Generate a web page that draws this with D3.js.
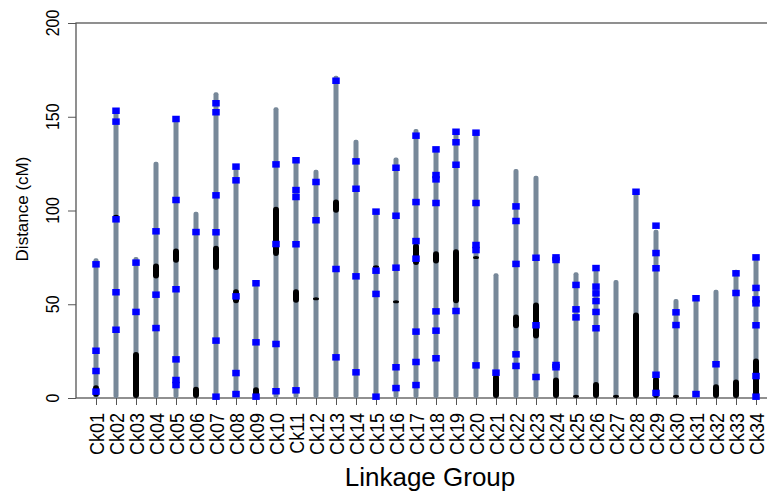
<!DOCTYPE html>
<html>
<head>
<meta charset="utf-8">
<script src="https://cdn.jsdelivr.net/npm/d3@7/dist/d3.min.js"></script>
<style>
    body { margin: 0; background: #fff; }
    text { font-family: "Liberation Sans", Arial, sans-serif; fill: #000; }
</style>
</head>
<body>
<div id="chart"></div>
<script>
// linkage groups and their length (cM)
let groups = ["Ck01", "Ck02", "Ck03", "Ck04", "Ck05", "Ck06", "Ck07", "Ck08", "Ck09", "Ck10",
    "Ck11", "Ck12", "Ck13", "Ck14", "Ck15", "Ck16", "Ck17", "Ck18", "Ck19", "Ck20",
    "Ck21", "Ck22", "Ck23", "Ck24", "Ck25", "Ck26", "Ck27", "Ck28", "Ck29", "Ck30",
    "Ck31", "Ck32", "Ck33", "Ck34"];
let lengths = [74, 154, 74.7, 125.5, 149, 98.8, 162.5, 123.4, 61.2, 154.5,
    127, 121.2, 171.4, 137.2, 99.4, 127.8, 142.9, 133.2, 142.9, 141.5,
    66, 121.6, 118, 75, 66.5, 69.3, 62.4, 110, 89.2, 52.3,
    54, 57.2, 67.9, 75];

// blue markers, position in cM
let markers = [
    [71.3, 25.2, 14.4, 3.4],
    [153.2, 147.4, 95.3, 56.4, 36.4],
    [72.2, 45.9],
    [88.9, 55.1, 37.3],
    [148.8, 105.6, 58, 20.6, 9.6, 6.9],
    [88.5],
    [157.2, 152.4, 108.1, 88.4, 30.6, 0.7],
    [123.4, 116.1, 54.2, 13.3, 2.1],
    [61.2, 29.7, 0.7],
    [124.6, 82.1, 28.8, 3.6],
    [126.8, 110.9, 107.2, 82, 4.1],
    [115.2, 94.8],
    [169.2, 68.8, 21.7],
    [126.2, 111.6, 64.9, 13.7],
    [99.4, 67.9, 55.5, 0.7],
    [122.8, 97.2, 69.5, 16.4, 5.3],
    [139.9, 104.5, 83.7, 74.3, 35.4, 19.2, 6.9],
    [132.6, 118.9, 116.6, 104, 46.2, 35.9, 21.2],
    [142, 136.4, 124.4, 46.4],
    [141.5, 104, 81.6, 78.9, 17.4],
    [13.5],
    [102.2, 94.4, 71.5, 23.3, 17.1],
    [74.8, 38.8, 11.2],
    [75, 73.6, 17.6, 16.4],
    [60.3, 47.3, 43],
    [69.3, 59.4, 55.8, 51.7, 45.9, 37.2],
    [],
    [110],
    [91.9, 77.3, 69.2, 12.4, 2.7],
    [45.7, 38.9],
    [53.2, 2.1],
    [18],
    [66.5, 56],
    [75, 58.7, 52.6, 50.5, 38.8, 11.7, 0.7]
];

// dense marker clusters (black), [start, end] in cM
let clusters = [
    [[0.7, 6]],
    [[95.5, 97]],
    [[0, 23.8]],
    [[63.8, 70.9]],
    [[72.2, 78.9]],
    [[0, 5.2]],
    [[68.3, 80.4]],
    [[50.5, 57.2]],
    [[0, 5]],
    [[75.7, 101.2]],
    [[50.8, 57.2]],
    [[52.3, 53]],
    [[98.8, 105.1]],
    [],
    [[69.3, 70]],
    [[50.7, 51.3]],
    [[70.9, 81.6]],
    [[71.8, 77.5]],
    [[50.5, 78.6]],
    [[74.4, 75]],
    [[0, 11.7]],
    [[37.2, 43.7]],
    [[31.8, 50.1]],
    [[0, 10.1]],
    [[0, 1]],
    [[0, 7.8]],
    [[0, 1]],
    [[0, 44.8]],
    [[0, 10.5]],
    [[0, 1]],
    [],
    [[0, 6.6]],
    [[0, 9.1]],
    [[0, 20.3]]
];

let yTicks = [0, 50, 100, 150, 200];

let width = 767
let height = 492

let svg = d3.select("#chart").append("svg")
    .attr("width", width)
    .attr("height", height);

// x: group index 1..34, plot spans 0..35
let x = d3.scaleLinear()
    .domain([0, 35])
    .range([76, 776]);

let y = d3.scaleLinear()
    .domain([0, 200])
    .range([398, 23]);

let rows = groups.map((g, i) => ({
    name: g,
    pos: i + 1,
    len: lengths[i],
    markers: markers[i],
    clusters: clusters[i]
}));

// box
svg.append("rect")
    .attr("x", x(0))
    .attr("y", y(200))
    .attr("width", x(35) - x(0))
    .attr("height", y(0) - y(200))
    .attr("fill", "none")
    .attr("stroke", "#555")
    .attr("stroke-width", 1.3);

// y axis
let yAxis = svg.append("g")
    .attr("transform", "translate(" + x(0) + ",0)")
    .call(d3.axisLeft(y).tickValues(yTicks).tickSize(8).tickFormat(""));
yAxis.select(".domain").remove();
yAxis.selectAll("line").attr("stroke", "#555");

svg.selectAll(".ytick")
    .data(yTicks)
    .enter().append("text")
    .attr("class", "ytick")
    .attr("transform", d => "translate(53," + y(d) + ") rotate(-90) scale(1,1.15)")
    .attr("text-anchor", "middle")
    .attr("dominant-baseline", "central")
    .style("font-size", "16px")
    .text(d => d);

svg.append("text")
    .attr("transform", "translate(22," + 209 + ") rotate(-90)")
    .attr("text-anchor", "middle")
    .attr("dominant-baseline", "central")
    .style("font-size", "17px")
    .text("Distance (cM)");

// x axis ticks and labels
let xAxis = svg.append("g")
    .attr("transform", "translate(0," + y(0) + ")")
    .call(d3.axisBottom(x).tickValues(rows.map(d => d.pos)).tickSize(7).tickFormat(""));
xAxis.select(".domain").remove();
xAxis.selectAll("line").attr("stroke", "#555");

svg.selectAll(".xlabel")
    .data(rows)
    .enter().append("text")
    .attr("class", "xlabel")
    .attr("transform", d => "translate(" + (x(d.pos) + 1) + ",413) rotate(-90) scale(1,1.14)")
    .attr("text-anchor", "end")
    .attr("dominant-baseline", "central")
    .style("font-size", "18px")
    .text(d => d.name);

svg.append("text")
    .attr("x", x(17.5) + 4)
    .attr("y", 486)
    .attr("text-anchor", "middle")
    .style("font-size", "26px")
    .text("Linkage Group");

// linkage group bars
let lg = svg.selectAll(".lg")
    .data(rows)
    .enter().append("g")
    .attr("class", "lg")
    .attr("transform", d => "translate(" + x(d.pos) + ",0)");

lg.append("rect")
    .attr("x", -2.5)
    .attr("y", d => y(d.len) - 1)
    .attr("width", 5)
    .attr("height", d => y(0) - y(d.len) + 1)
    .attr("rx", 2)
    .attr("fill", "#778899");

// black clusters
lg.selectAll(".cl")
    .data(d => d.clusters)
    .enter().append("rect")
    .attr("class", "cl")
    .attr("x", -3)
    .attr("y", d => y(d[1]) - 1.5)
    .attr("width", 6)
    .attr("height", d => Math.max(3, y(d[0]) - y(d[1]) + 1.5))
    .attr("rx", 3)
    .attr("fill", "#000");

// blue markers
lg.selectAll(".mk")
    .data(d => d.markers)
    .enter().append("rect")
    .attr("class", "mk")
    .attr("x", -3.75)
    .attr("y", d => y(d) - 3.25)
    .attr("width", 7.5)
    .attr("height", 6.5)
    .attr("fill", "#0000ff");
</script>
</body>
</html>
